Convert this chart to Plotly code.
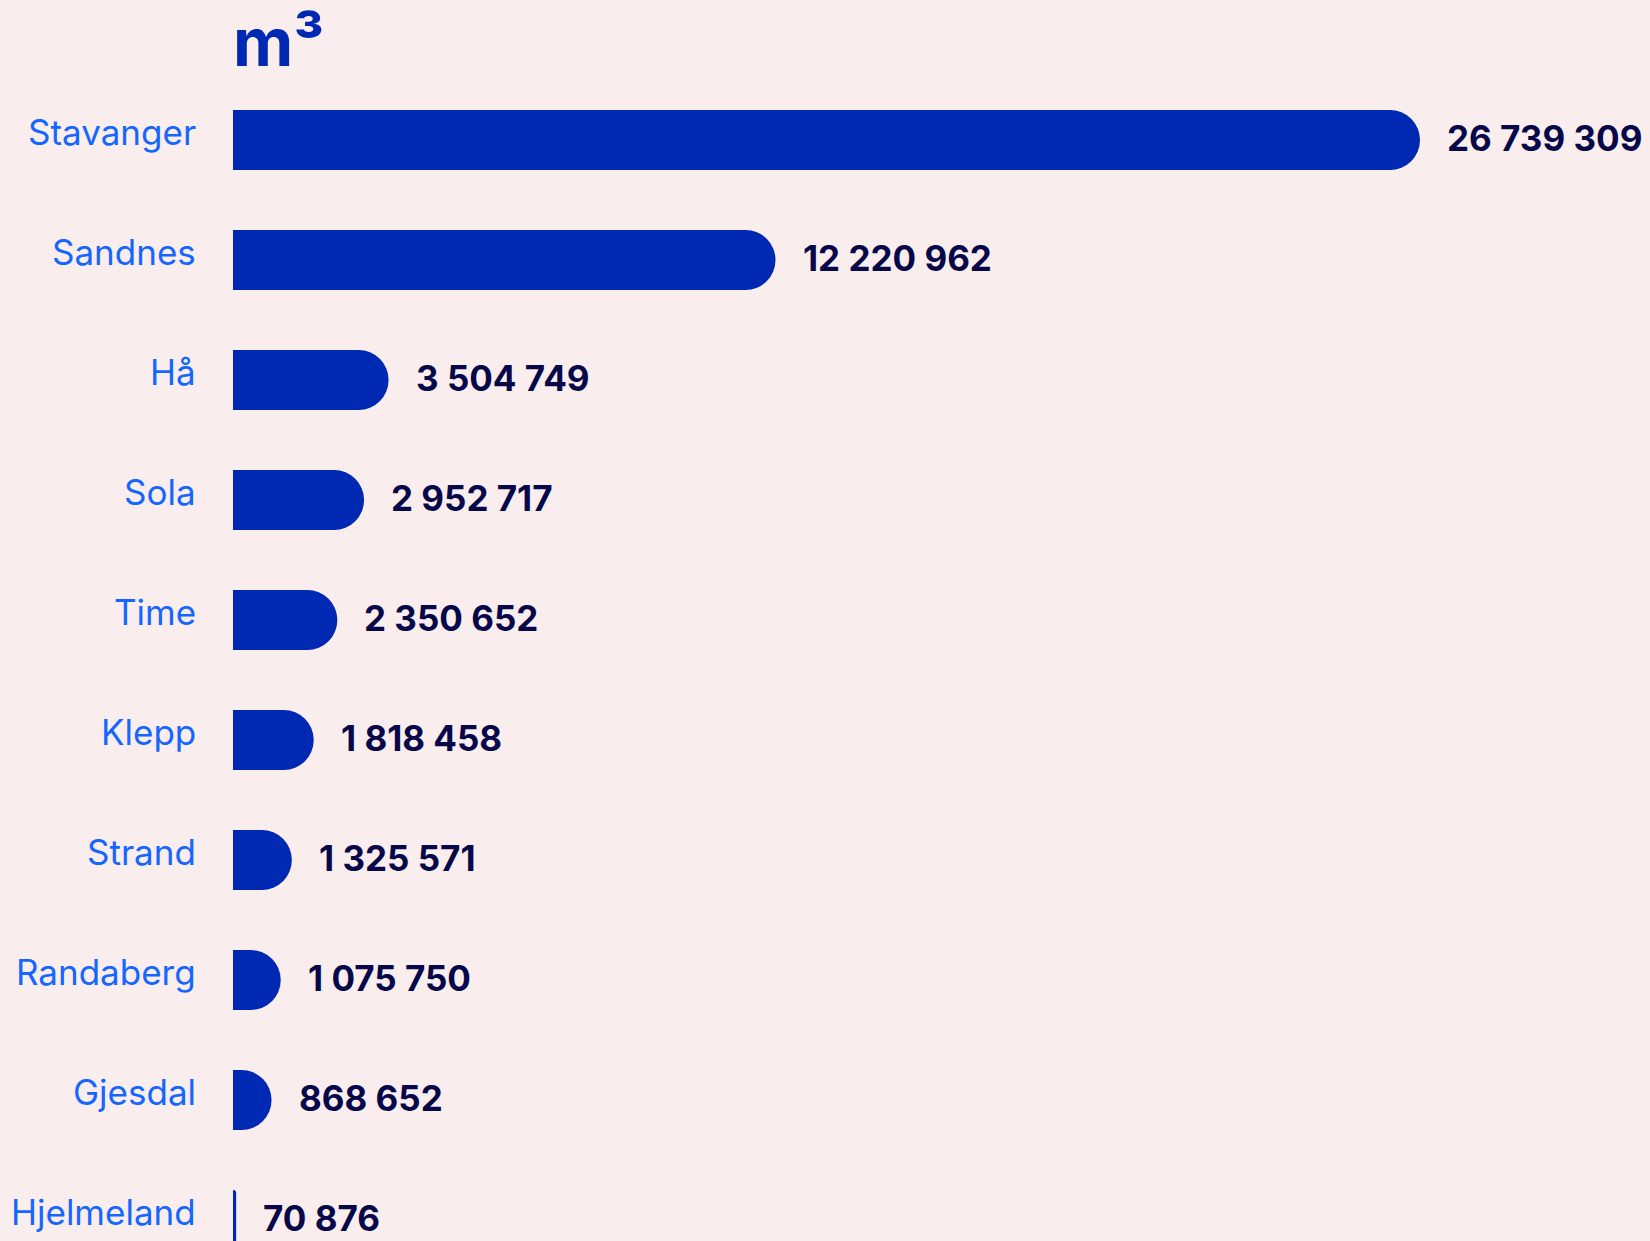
import plotly.graph_objects as go

categories = ["Stavanger", "Sandnes", "Hå", "Sola", "Time", "Klepp", "Strand",
              "Randaberg", "Gjesdal", "Hjelmeland"]
values = [26739309, 12220962, 3504749, 2952717, 2350652, 1818458, 1325571,
          1075750, 868652, 70876]
unit_title = "m³"

BG = "#F9EDED"
BAR = "#0029B3"
LABEL = "#1466FF"
VALUE = "#07084A"
FONT = "Inter"

W, H = 1650, 1241
L_MARGIN = 233
T_MARGIN = 80
ROW = 120

def fmt(v):
    return f"{v:,}".replace(",", " ")

fig = go.Figure()
fig.add_trace(go.Bar(
    y=categories, x=values, orientation="h",
    marker=dict(color=BAR, line=dict(width=0), cornerradius="50%"),
    width=0.5, hoverinfo="skip",
))

annotations = []
for c, v in zip(categories, values):
    annotations.append(dict(
        x=v, y=c, xref="x", yref="y", text=fmt(v), showarrow=False,
        xanchor="left", yanchor="middle", xshift=25, yshift=2,
        font=dict(family=FONT, size=35, color=VALUE, weight="bold"),
    ))
    annotations.append(dict(
        x=0, y=c, xref="paper", yref="y", text=c, showarrow=False,
        xanchor="right", yanchor="middle", xshift=-35, yshift=8,
        font=dict(family=FONT, size=35, color=LABEL),
    ))
annotations.append(dict(
    x=0, y=1, xref="paper", yref="paper", text=unit_title, showarrow=False,
    xanchor="left", yanchor="bottom", xshift=-2, yshift=-4,
    font=dict(family=FONT, size=66, color=BAR, weight="bold"),
))

plot_w = W - L_MARGIN
xmax = max(values) * plot_w / 1187
n_vis = (H - T_MARGIN) / ROW - 0.5

fig.update_layout(
    width=W, height=H,
    paper_bgcolor=BG, plot_bgcolor=BG,
    margin=dict(l=L_MARGIN, r=0, t=T_MARGIN, b=0, pad=0),
    showlegend=False,
    xaxis=dict(range=[0, xmax], visible=False, fixedrange=True),
    yaxis=dict(range=[n_vis, -0.5], showticklabels=False, showgrid=False,
               zeroline=False, ticks="", fixedrange=True),
    annotations=annotations,
)

fig.write_html(
    "out.html",
    config={"displayModeBar": False},
    post_script="document.body.style.margin='0';document.body.style.overflow='hidden';",
)
